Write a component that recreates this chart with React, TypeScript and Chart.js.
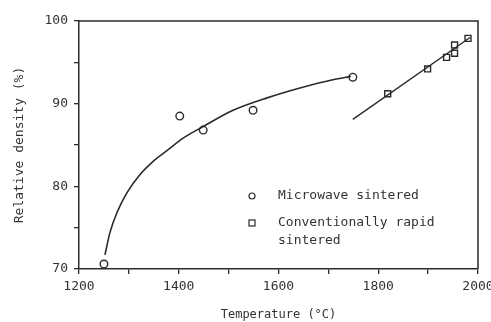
import React, { useEffect, useRef } from "react";
import { Chart, registerables } from "chart.js";
Chart.register(...registerables);

const microwaveTemps = [1250, 1402, 1449, 1549, 1749];
const microwaveDensity = [70.6, 88.5, 86.8, 89.2, 93.2];
const conventionalTemps = [1819, 1899, 1937, 1953, 1953, 1980];
const conventionalDensity = [91.2, 94.2, 95.6, 96.1, 97.1, 97.9];
const microwaveFitTemps = [1252, 1262, 1276, 1296, 1322, 1352, 1378, 1408, 1448, 1509, 1577, 1643, 1709, 1745];
const microwaveFitDensity = [71.7, 74.4, 76.8, 79.2, 81.4, 83.2, 84.4, 85.8, 87.2, 89.2, 90.7, 91.9, 92.9, 93.3];
const conventionalFitTemps = [1749, 1984];
const conventionalFitDensity = [88.1, 98.0];
const legendLabels = ["Microwave sintered", "Conventionally rapid", "sintered"];
const xTitle = "Temperature (\u00b0C)";
const yTitle = "Relative density (%)";

const INK = "#2a2a2a";
const FONT = '"DejaVu Sans Mono", monospace';

const zip = (xs: number[], ys: number[]) => xs.map((x, i) => ({ x, y: ys[i] }));

export default function App() {
  const ref = useRef<HTMLCanvasElement | null>(null);
  useEffect(() => {
    if (!ref.current) return;
    const framePlugin = {
      id: "frame",
      beforeDraw(chart: any) {
        const c = chart.ctx;
        c.save();
        c.fillStyle = "#ffffff";
        c.fillRect(0, 0, chart.width, chart.height);
        c.restore();
      },
      afterDraw(chart: any) {
        const { left, right, top, bottom } = chart.chartArea;
        const c = chart.ctx;
        c.save();
        c.strokeStyle = INK;
        c.lineWidth = 1.5;
        c.beginPath();
        c.moveTo(left, top);
        c.lineTo(right, top);
        c.lineTo(right, bottom);
        c.stroke();
        // legend
        const mx = left + 173;
        const tx = left + 199;
        const y1 = top + 175;
        const y2 = top + 202;
        const y3 = top + 220;
        c.lineWidth = 1.2;
        c.beginPath();
        c.arc(mx, y1, 3, 0, Math.PI * 2);
        c.stroke();
        c.strokeRect(mx - 3, y2 - 3, 6, 6);
        c.fillStyle = "#333";
        c.font = "13px " + FONT;
        c.textBaseline = "middle";
        c.textAlign = "left";
        c.fillText(legendLabels[0], tx, y1);
        c.fillText(legendLabels[1], tx, y2);
        c.fillText(legendLabels[2], tx, y3);
        c.restore();
      },
    };
    const chart = new Chart(ref.current, {
      type: "scatter",
      data: {
        datasets: [
          {
            data: zip(microwaveFitTemps, microwaveFitDensity),
            showLine: true,
            pointRadius: 0,
            borderColor: INK,
            borderWidth: 1.6,
            cubicInterpolationMode: "monotone",
          },
          {
            data: zip(conventionalFitTemps, conventionalFitDensity),
            showLine: true,
            pointRadius: 0,
            borderColor: INK,
            borderWidth: 1.4,
          },
          {
            data: zip(microwaveTemps, microwaveDensity),
            pointStyle: "circle",
            pointRadius: 3.8,
            pointBorderWidth: 1.4,
            pointBorderColor: INK,
            pointBackgroundColor: "#fff",
          },
          {
            data: zip(conventionalTemps, conventionalDensity),
            pointStyle: "rect",
            pointRadius: 4.2,
            pointBorderWidth: 1.4,
            pointBorderColor: INK,
            pointBackgroundColor: "#fff",
          },
        ],
      } as any,
      plugins: [framePlugin],
      options: {
        responsive: false,
        animation: false,
        layout: { padding: { top: 21, right: 13, left: 0, bottom: 0 } },
        plugins: { legend: { display: false }, tooltip: { enabled: false } },
        scales: {
          x: {
            type: "linear",
            min: 1200,
            max: 2000,
            afterFit: (s: any) => {
              s.height = 53;
              s.paddingLeft = 0;
              s.paddingRight = 0;
            },
            ticks: {
              stepSize: 100,
              autoSkip: false,
              maxRotation: 0,
              padding: 5,
              color: "#333",
              font: { family: FONT, size: 13 },
              callback: (v: any) => (Number(v) % 200 === 0 ? String(v) : ""),
            },
            grid: { drawOnChartArea: false, drawTicks: true, tickLength: 5, color: INK, lineWidth: 1.3 },
            border: { display: true, color: INK, width: 1.5 },
            title: {
              display: true,
              text: xTitle,
              color: "#333",
              font: { family: FONT, size: 12 },
              padding: { top: 0, bottom: 0 },
            },
          },
          y: {
            type: "linear",
            min: 70,
            max: 100,
            afterFit: (s: any) => {
              s.width = 79;
              s.paddingTop = 0;
              s.paddingBottom = 0;
            },
            ticks: {
              stepSize: 5,
              autoSkip: false,
              padding: 6,
              color: "#333",
              font: { family: FONT, size: 13 },
              callback: (v: any) => (Number(v) % 10 === 0 ? String(v) : ""),
            },
            grid: { drawOnChartArea: false, drawTicks: true, tickLength: 5, color: INK, lineWidth: 1.3 },
            border: { display: true, color: INK, width: 1.5 },
            title: {
              display: true,
              text: yTitle,
              color: "#333",
              font: { family: FONT, size: 13 },
              padding: { top: 12, bottom: 0 },
            },
          },
        },
      } as any,
    });
    return () => chart.destroy();
  }, []);
  return (
    <div style={{ position: "absolute", left: 0, top: 0, width: 491, height: 322, background: "#fff" }}>
      <canvas ref={ref} width={491} height={322} style={{ display: "block" }} />
    </div>
  );
}
